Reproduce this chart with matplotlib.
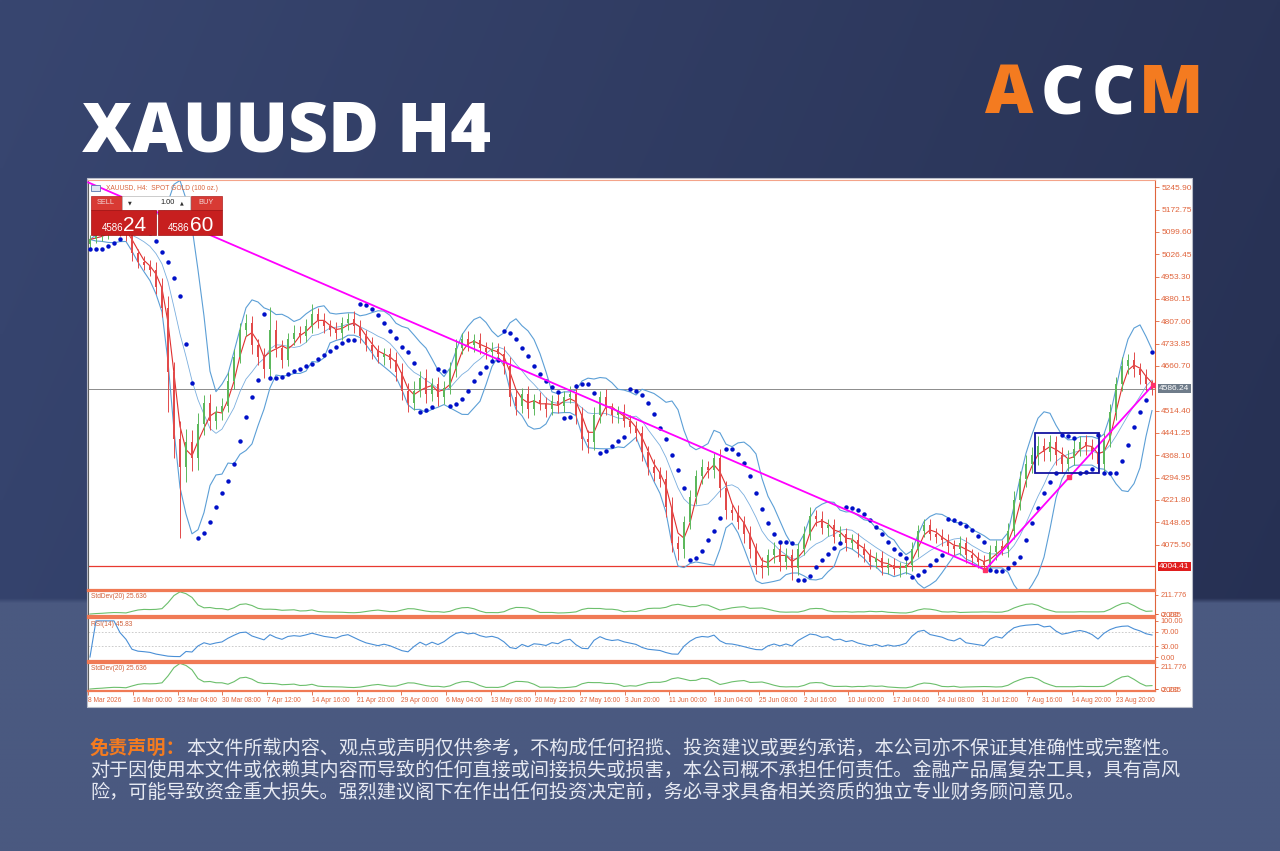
import numpy as np
import pandas as pd
import matplotlib
matplotlib.use("Agg")
import matplotlib.pyplot as plt
import matplotlib.transforms as mtransforms
from matplotlib.patches import Rectangle

plt.rcParams['font.family'] = ['Liberation Sans', 'DejaVu Sans']

# ---- price data (one candle per ~6 px of the original chart) ----
first_open = 5060
closes = [
    5075, 5085, 5095, 5110, 5120, 5105, 5090, 5030, 5000, 4990,
    4975, 4920, 4850, 4640, 4420, 4330, 4410, 4360, 4470, 4540,
    4480, 4510, 4530, 4610, 4690, 4780, 4800, 4730, 4690, 4650,
    4780, 4720, 4680, 4750, 4770, 4760, 4790, 4830, 4810, 4790,
    4780, 4770, 4800, 4815, 4790, 4760, 4730, 4710, 4690, 4700,
    4680, 4640, 4580, 4540, 4580, 4620, 4570, 4600, 4560, 4590,
    4650, 4720, 4750, 4730, 4745, 4720, 4705, 4715, 4700, 4660,
    4560, 4530, 4570, 4520, 4550, 4540, 4520, 4545, 4530, 4560,
    4570, 4500, 4420, 4410, 4500, 4560, 4520, 4500, 4510, 4480,
    4460, 4440, 4380, 4330, 4310, 4290, 4200, 4080, 4060, 4150,
    4230, 4300, 4330, 4320, 4360, 4260, 4190, 4180, 4150, 4110,
    4060, 4010, 4000, 4040, 4060, 4020, 4040, 4000, 4060, 4110,
    4170, 4160, 4130, 4140, 4100, 4110, 4080, 4090, 4060, 4040,
    4020, 4030, 4000, 4010, 3995, 4000, 4010, 4060, 4120, 4140,
    4110, 4100, 4090, 4070, 4060, 4080, 4040, 4030, 4020, 4010,
    4050, 4070, 4060, 4120, 4220, 4290, 4340, 4370, 4400, 4380,
    4410, 4370, 4340, 4360, 4390, 4410, 4400, 4380, 4340, 4420,
    4510, 4600, 4660, 4680, 4650, 4630, 4600, 4586.24,
]
hi_wick = [
    15, 20, 12, 18, 25, 15, 20, 30, 15, 20,
    18, 25, 30, 40, 35, 60, 45, 40, 35, 25,
    30, 20, 25, 30, 25, 20, 30, 25, 20, 30,
    75, 30, 25, 20, 25, 20, 25, 35, 20, 25,
    20, 25, 20, 20, 25, 20, 20, 25, 20, 20,
    20, 25, 30, 25, 30, 25, 30, 20, 25, 20,
    25, 30, 20, 25, 20, 25, 20, 25, 20, 25,
    30, 25, 20, 25, 20, 25, 20, 20, 25, 20,
    25, 30, 25, 30, 25, 20, 25, 20, 20, 25,
    20, 20, 25, 20, 25, 20, 30, 30, 25, 20,
    25, 20, 25, 20, 15, 30, 25, 20, 25, 20,
    25, 20, 25, 20, 25, 20, 25, 20, 20, 25,
    30, 20, 25, 20, 20, 25, 20, 20, 25, 20,
    20, 20, 25, 20, 20, 20, 20, 25, 20, 20,
    20, 20, 25, 20, 20, 25, 20, 20, 20, 20,
    25, 20, 20, 25, 30, 25, 30, 25, 30, 25,
    25, 20, 25, 25, 30, 20, 25, 20, 25, 20,
    25, 25, 30, 20, 25, 20, 20, 15,
]
lo_wick = [
    15, 12, 15, 20, 15, 18, 20, 25, 20, 15,
    20, 25, 30, 130, 60, 233, 50, 45, 40, 35,
    30, 25, 25, 20, 25, 20, 20, 30, 25, 30,
    25, 30, 25, 20, 20, 25, 20, 20, 25, 20,
    20, 20, 25, 20, 20, 25, 20, 25, 20, 25,
    25, 30, 30, 30, 25, 20, 30, 25, 30, 25,
    20, 25, 20, 20, 25, 20, 20, 25, 20, 25,
    30, 30, 25, 30, 20, 25, 25, 20, 25, 20,
    20, 30, 35, 35, 25, 25, 20, 25, 25, 20,
    20, 25, 30, 25, 25, 25, 35, 30, 35, 30,
    25, 20, 25, 25, 25, 30, 30, 25, 25, 30,
    30, 30, 35, 25, 25, 30, 25, 40, 25, 20,
    20, 25, 20, 25, 20, 20, 25, 20, 25, 20,
    25, 20, 25, 20, 20, 25, 20, 20, 25, 20,
    20, 20, 20, 25, 20, 20, 25, 20, 20, 17,
    20, 25, 20, 25, 25, 30, 25, 30, 35, 30,
    30, 35, 30, 25, 25, 25, 30, 25, 30, 30,
    25, 25, 20, 25, 25, 30, 25, 20,
]

price_ticks = [5245.90, 5172.75, 5099.60, 5026.45, 4953.30, 4880.15, 4807.00,
               4733.85, 4660.70, 4514.40, 4441.25, 4368.10, 4294.95, 4221.80,
               4148.65, 4075.50]
current_price = 4586.24
support_price = 4004.41

date_labels = ["8 Mar 2026", "16 Mar 00:00", "23 Mar 04:00", "30 Mar 08:00",
               "7 Apr 12:00", "14 Apr 16:00", "21 Apr 20:00", "29 Apr 00:00",
               "6 May 04:00", "13 May 08:00", "20 May 12:00", "27 May 16:00",
               "3 Jun 20:00", "11 Jun 00:00", "18 Jun 04:00", "25 Jun 08:00",
               "2 Jul 16:00", "10 Jul 00:00", "17 Jul 04:00", "24 Jul 08:00",
               "31 Jul 12:00", "7 Aug 16:00", "14 Aug 20:00", "23 Aug 20:00"]

# drawn objects (bar index, price)
trend_down_x = [-0.3, 149.2]
trend_down_y = [5262, 3993]
trend_up_x = [149.2, 177.2]
trend_up_y = [3993, 4599]
pivot_x = [149.2, 163.2, 177.2]
pivot_y = [3993, 4296, 4599]
box_x = [157.5, 168.2]
box_y = [4310, 4441]

std_label = "StdDev(20) 25.636"
rsi_label = "RSI(14) 45.83"

disclaimer_head = "免责声明："
disclaimer_lines = [
    "本文件所载内容、观点或声明仅供参考，不构成任何招揽、投资建议或要约承诺，本公司亦不保证其准确性或完整性。",
    "对于因使用本文件或依赖其内容而导致的任何直接或间接损失或损害，本公司概不承担任何责任。金融产品属复杂工具，具有高风",
    "险，可能导致资金重大损失。强烈建议阁下在作出任何投资决定前，务必寻求具备相关资质的独立专业财务顾问意见。",
]

# ---- indicators ----
c = pd.Series(closes, dtype=float)
o = pd.Series([first_open] + closes[:-1], dtype=float)
hi = np.maximum(o, c) + np.array(hi_wick)
lo = np.minimum(o, c) - np.array(lo_wick)
n = len(c)
idx = np.arange(n)

bb_n = 8
bb_mid = c.rolling(bb_n, min_periods=1).mean()
bb_sd = c.rolling(bb_n, min_periods=1).std(ddof=0).fillna(0)
bb_up = bb_mid + 2 * bb_sd
bb_lo = bb_mid - 2 * bb_sd
ma_fast = c.rolling(3, min_periods=1).mean()
std_line = c.rolling(6, min_periods=1).std(ddof=0).fillna(0)

delta = c.diff().fillna(0)
gain = delta.clip(lower=0).ewm(alpha=1 / 7, adjust=False).mean()
loss = (-delta.clip(upper=0)).ewm(alpha=1 / 7, adjust=False).mean()
rsi = 100 - 100 / (1 + gain / loss.replace(0, 1e-9))


def psar(high, low, step=0.04, amax=0.2):
    high = np.asarray(high)
    low = np.asarray(low)
    out = np.zeros(len(high))
    bull = True
    af = step
    ep = high[0]
    out[0] = low[0]
    for i in range(1, len(high)):
        s = out[i - 1] + af * (ep - out[i - 1])
        if bull:
            s = min(s, low[i - 1], low[max(i - 2, 0)])
            if low[i] < s:
                bull, s, ep, af = False, ep, low[i], step
            elif high[i] > ep:
                ep, af = high[i], min(af + step, amax)
        else:
            s = max(s, high[i - 1], high[max(i - 2, 0)])
            if high[i] > s:
                bull, s, ep, af = True, ep, high[i], step
            elif low[i] < ep:
                ep, af = low[i], min(af + step, amax)
        out[i] = s
    return out


sar = psar(hi, lo)

# ---- figure ----
fig = plt.figure(figsize=(12.8, 8.51), dpi=100)


def rect(l, t, r, b):
    return [l / 1280, 1 - b / 851, (r - l) / 1280, (b - t) / 851]


# background
bg = fig.add_axes([0, 0, 1, 1], zorder=0)
H, W = 170, 256
yy, xx = np.mgrid[0:H, 0:W]
u = (xx / (W - 1))[..., None]
v = (yy / (H - 1))[..., None]
top_l = np.array([0x38, 0x46, 0x70]) / 255
top_r = np.array([0x2a, 0x34, 0x57]) / 255
img = top_l * (1 - u) + top_r * u - 0.02 * v
low_c = np.array([0x4a, 0x59, 0x80]) / 255
img[(v[..., 0] * 851) > 603] = low_c
bg.imshow(np.clip(img, 0, 1), extent=(0, 1280, 851, 0), aspect='auto', interpolation='bilinear')
bg.set_xlim(0, 1280)
bg.set_ylim(851, 0)
bg.axis('off')
bg.add_patch(Rectangle((87, 178), 1105, 529, facecolor='white', edgecolor='#b8bcc8', lw=0.8))

bg.text(82, 152, "XAUUSD H4", color='white', fontsize=50, fontweight='heavy',
        family=['Open Sans', 'DejaVu Sans'], va='baseline', ha='left')
logo = [("A", 985, '#f47b20'), ("C", 1041, 'white'), ("C", 1092, 'white'), ("M", 1139, '#f47b20')]
for ch, lx, col in logo:
    bg.text(lx, 113, ch, color=col, fontsize=48, fontweight='heavy',
            family=['Open Sans', 'DejaVu Sans'], va='baseline', ha='left')

cjk = ['Noto Sans CJK SC', 'DejaVu Sans']
fs_cjk = 13.75
bg.text(90, 748, disclaimer_head, color='#f47b20', fontsize=fs_cjk, fontweight='bold',
        family=cjk, va='center', ha='left')
bg.text(186, 748, disclaimer_lines[0], color='#e6e9f2', fontsize=fs_cjk, family=cjk, va='center', ha='left')
bg.text(90, 770, disclaimer_lines[1], color='#e6e9f2', fontsize=fs_cjk, family=cjk, va='center', ha='left')
bg.text(90, 792, disclaimer_lines[2], color='#e6e9f2', fontsize=fs_cjk, family=cjk, va='center', ha='left')

axis_col = '#e0643c'
sep_col = '#f07a55'
xlim = (-0.33, 177.5)

# main price pane
ax = fig.add_axes(rect(88, 180, 1155, 590), zorder=2)
ax.set_facecolor('white')
ax.set_xlim(*xlim)
ax.set_ylim(3926.8, 5269.8)

ax.axhline(current_price, color='#8c8c8c', lw=0.7, zorder=1)
ax.axhline(support_price, color='#e83a30', lw=0.9, zorder=1)

ax.plot(idx, bb_up, color='#5c9fd6', lw=0.8, zorder=2)
ax.plot(idx, bb_lo, color='#5c9fd6', lw=0.8, zorder=2)
ax.plot(idx, bb_mid, color='#7aaede', lw=0.6, zorder=2)
ax.plot(idx, ma_fast, color='#e03030', lw=0.8, zorder=2)

up = (c >= o).values
cols = np.where(up, '#5cb85c', '#e24a4a')
ax.vlines(idx, lo, hi, colors=cols, lw=0.7, zorder=3)
ax.bar(idx, np.maximum((c - o).abs(), 3), bottom=np.minimum(o, c), width=0.45,
       color=cols, linewidth=0, zorder=3)

ax.plot(idx, sar, 'o', ms=3.2, color='#0010c8', markeredgewidth=0, zorder=4)

ax.plot(trend_down_x, trend_down_y, color='#ff00ff', lw=1.3, zorder=5, clip_on=False)
ax.plot(trend_up_x, trend_up_y, color='#ff00ff', lw=1.3, zorder=5)
ax.plot(pivot_x, pivot_y, 's', ms=3.5, color='#ff3366', zorder=6)
ax.add_patch(Rectangle((box_x[0], box_y[0]), box_x[1] - box_x[0], box_y[1] - box_y[0],
                       fill=False, edgecolor='#1414a0', lw=1.3, zorder=6))

ax.yaxis.tick_right()
ax.set_yticks(price_ticks)
ax.set_yticklabels([f"{t:.2f}" for t in price_ticks])
ax.tick_params(axis='y', colors=axis_col, labelsize=6, length=3, width=0.6, pad=1.5)
ax.tick_params(axis='x', bottom=False, labelbottom=False)
trans = mtransforms.blended_transform_factory(ax.transAxes, ax.transData)
ax.text(1.004, current_price, f"{current_price:.2f}", transform=trans, fontsize=6, color='white',
        va='center', ha='left', clip_on=False,
        bbox=dict(boxstyle='square,pad=0.15', fc='#6f7c8a', ec='none'))
ax.text(1.004, support_price, f"{support_price:.2f}", transform=trans, fontsize=6, color='white',
        va='center', ha='left', clip_on=False,
        bbox=dict(boxstyle='square,pad=0.15', fc='#e01e1e', ec='none'))
ax.spines['top'].set_color('#f4a48a')
ax.spines['right'].set_color(axis_col)
ax.spines['left'].set_color('#606060')
ax.spines['bottom'].set_color(sep_col)
ax.spines['bottom'].set_linewidth(1.6)
for s in ['top', 'right', 'left']:
    ax.spines[s].set_linewidth(0.8)


def sub_pane(box, ylim, ticks, ticklabels, label):
    a = fig.add_axes(rect(*box), zorder=2)
    a.set_facecolor('white')
    a.set_xlim(*xlim)
    a.set_ylim(*ylim)
    a.yaxis.tick_right()
    a.set_yticks(ticks)
    a.set_yticklabels(ticklabels)
    a.tick_params(axis='y', colors=axis_col, labelsize=5.3, length=2.5, width=0.6, pad=1.5)
    a.tick_params(axis='x', bottom=False, labelbottom=False)
    for s in ['top', 'bottom']:
        a.spines[s].set_color(sep_col)
        a.spines[s].set_linewidth(1.6)
    a.spines['right'].set_color(axis_col)
    a.spines['right'].set_linewidth(0.8)
    a.spines['left'].set_color('#606060')
    a.spines['left'].set_linewidth(0.8)
    a.text(0.003, 0.93, label, transform=a.transAxes, fontsize=4.8, color='#d0603a',
           va='top', ha='left')
    return a


std_ticks = [211.776, 0.0, -2.235]
std_tlabels = ["211.776", "0.000", "-2.235"]
ax1 = sub_pane((88, 591, 1155, 616), (-22, 256), std_ticks, std_tlabels, std_label)
ax1.plot(idx, std_line, color='#6cbf6c', lw=0.8)

ax2 = sub_pane((88, 618, 1155, 661), (-11, 108), [100, 70, 30, 0],
               ["100.00", "70.00", "30.00", "0.00"], rsi_label)
ax2.axhline(70, color='#c4c4c4', lw=0.6, ls=(0, (2, 2)))
ax2.axhline(30, color='#c4c4c4', lw=0.6, ls=(0, (2, 2)))
ax2.plot(idx, rsi, color='#4a8fd6', lw=0.8)

ax3 = sub_pane((88, 663, 1155, 691), (-19, 250), std_ticks, std_tlabels, std_label)
ax3.plot(idx, std_line, color='#6cbf6c', lw=0.8)
tick_idx = np.arange(len(date_labels)) * 7.45 - 0.28
ax3.set_xticks(tick_idx)
ax3.set_xticklabels(date_labels, ha='left')
ax3.tick_params(axis='x', bottom=True, labelbottom=True, colors=axis_col,
                labelsize=4.8, length=3, width=0.6, pad=1.5)

# overlay: chart caption and one-click trading panel
ov = fig.add_axes([0, 0, 1, 1], zorder=8)
ov.set_xlim(0, 1280)
ov.set_ylim(851, 0)
ov.axis('off')
ov.patch.set_alpha(0)
ov.add_patch(Rectangle((91, 185), 9, 6, facecolor='#dfe6f2', edgecolor='#5a78b0', lw=0.6))
ov.text(106, 188, "XAUUSD, H4:  SPOT GOLD (100 oz.)", fontsize=4.8, color='#d9643c',
        va='center', ha='left')

ov.add_patch(Rectangle((91, 196), 31, 14, facecolor='#d83a34', edgecolor='#b02020', lw=0.5))
ov.add_patch(Rectangle((122, 196), 68, 14, facecolor='white', edgecolor='#b8b8b8', lw=0.5))
ov.add_patch(Rectangle((191, 196), 31, 14, facecolor='#d83a34', edgecolor='#b02020', lw=0.5))
ov.add_patch(Rectangle((91, 210), 65, 25, facecolor='#c71f1f', edgecolor='#a01010', lw=0.5))
ov.add_patch(Rectangle((158, 210), 64, 25, facecolor='#c71f1f', edgecolor='#a01010', lw=0.5))
ov.text(106, 203, "SELL", fontsize=5.3, color='#f4d8d8', ha='center', va='center')
ov.text(206, 203, "BUY", fontsize=5.3, color='#f4d8d8', ha='center', va='center')
ov.text(130, 203, "▼", fontsize=3.5, color='#303030', ha='center', va='center', family=['DejaVu Sans'])
ov.text(182, 203, "▲", fontsize=3.5, color='#303030', ha='center', va='center', family=['DejaVu Sans'])
ov.text(175, 203, "1.00", fontsize=5.3, color='#202020', ha='right', va='center')
ov.text(102, 231, "4586", fontsize=7, color='white', ha='left', va='baseline')
ov.text(123, 231, "24", fontsize=15, color='white', ha='left', va='baseline')
ov.text(168, 231, "4586", fontsize=7, color='white', ha='left', va='baseline')
ov.text(190, 231, "60", fontsize=15, color='white', ha='left', va='baseline')

fig.savefig("out.png", dpi=100)
